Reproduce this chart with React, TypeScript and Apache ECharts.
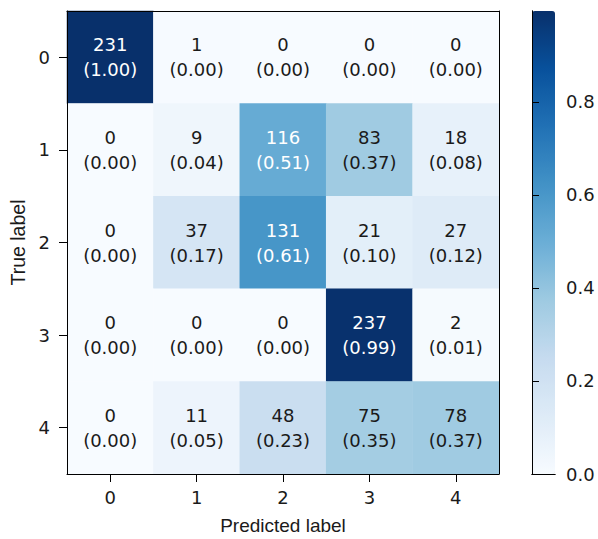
import React, { useEffect, useRef } from "react";
import * as echarts from "echarts";

const xCategories = ["0", "1", "2", "3", "4"];
const yCategories = ["0", "1", "2", "3", "4"];
const counts: number[][] = [
  [231, 1, 0, 0, 0],
  [0, 9, 116, 83, 18],
  [0, 37, 131, 21, 27],
  [0, 0, 0, 237, 2],
  [0, 11, 48, 75, 78],
];
const colorbarTicks = [0, 0.2, 0.4, 0.6, 0.8];
const blues = [
  "#f7fbff",
  "#deebf7",
  "#c6dbef",
  "#9ecae1",
  "#6baed6",
  "#4292c6",
  "#2171b5",
  "#08519c",
  "#08306b",
];

function fmt2(v: number): string {
  const s = v * 100;
  const f = Math.floor(s);
  const d = s - f;
  let r: number;
  if (Math.abs(d - 0.5) < 1e-9) r = f % 2 === 0 ? f : f + 1;
  else r = Math.round(s);
  return (r / 100).toFixed(2);
}

export default function App() {
  const ref = useRef<HTMLDivElement>(null);
  useEffect(() => {
    document.body.style.margin = "0";
    const chart = echarts.init(ref.current!, null, { renderer: "svg" });
    const norm = counts.map((row) => {
      const t = row.reduce((a, b) => a + b, 0);
      return row.map((c) => c / t);
    });
    let vmax = 0;
    norm.forEach((r) => r.forEach((v) => (vmax = Math.max(vmax, v))));
    const data: any[] = [];
    counts.forEach((row, i) =>
      row.forEach((c, j) => {
        const v = norm[i][j];
        data.push({
          value: [j, i, v],
          label: {
            show: true,
            formatter: `${c}\n(${fmt2(v)})`,
            color: v > vmax / 2 ? "#ffffff" : "#1a1a1a",
          },
        });
      })
    );
    const lineOnly = {
      axisLine: { show: true, lineStyle: { color: "#000", width: 1 } },
      axisTick: { show: false },
      axisLabel: { show: false },
      splitLine: { show: false },
      z: 10,
    };
    const labelFont = {
      fontFamily: "DejaVu Sans",
      fontSize: 18,
      color: "#1a1a1a",
    };
    const option: any = {
      animation: false,
      backgroundColor: "#ffffff",
      grid: [
        { left: 67, top: 11, width: 432, height: 463, outerBoundsMode: "none", containLabel: false },
        { left: 532, top: 11, width: 23, height: 463, outerBoundsMode: "none", containLabel: false },
      ],
      xAxis: [
        {
          gridIndex: 0,
          type: "category",
          data: xCategories,
          position: "bottom",
          axisLine: { show: true, lineStyle: { color: "#000", width: 1 } },
          axisTick: {
            show: true,
            alignWithLabel: true,
            length: 8,
            lineStyle: { color: "#000" },
          },
          axisLabel: { ...labelFont, margin: 14 },
          splitLine: { show: false },
          name: "Predicted label",
          nameLocation: "middle",
          nameGap: 42,
          nameTextStyle: {
            fontFamily: "Liberation Sans",
            fontSize: 19,
            color: "#1a1a1a",
          },
          z: 10,
        },
        {
          gridIndex: 0,
          type: "category",
          data: xCategories,
          position: "top",
          ...lineOnly,
        },
        { gridIndex: 1, type: "value", min: 0, max: 1, position: "bottom", ...lineOnly },
        { gridIndex: 1, type: "value", min: 0, max: 1, position: "top", ...lineOnly },
      ],
      yAxis: [
        {
          gridIndex: 0,
          type: "category",
          data: yCategories,
          inverse: true,
          position: "left",
          axisLine: { show: true, lineStyle: { color: "#000", width: 1 } },
          axisTick: {
            show: true,
            alignWithLabel: true,
            length: 8,
            lineStyle: { color: "#000" },
          },
          axisLabel: { ...labelFont, margin: 17 },
          splitLine: { show: false },
          name: "True label",
          nameLocation: "middle",
          nameRotate: 90,
          nameGap: 38,
          nameTextStyle: {
            fontFamily: "Liberation Sans",
            fontSize: 19.5,
            color: "#1a1a1a",
          },
          z: 10,
        },
        {
          gridIndex: 0,
          type: "category",
          data: yCategories,
          inverse: true,
          position: "right",
          ...lineOnly,
        },
        { gridIndex: 1, type: "value", min: 0, max: vmax, position: "left", ...lineOnly },
        {
          gridIndex: 1,
          type: "value",
          min: 0,
          max: vmax,
          position: "right",
          axisLine: { show: true, lineStyle: { color: "#000", width: 1 } },
          axisTick: {
            show: true,
            length: 7,
            customValues: colorbarTicks,
            lineStyle: { color: "#000" },
          },
          axisLabel: {
            ...labelFont,
            margin: 11,
            customValues: colorbarTicks,
            formatter: (v: number) => v.toFixed(1),
          },
          splitLine: { show: false },
          z: 10,
        },
      ],
      visualMap: {
        type: "continuous",
        min: 0,
        max: vmax,
        seriesIndex: 0,
        show: true,
        calculable: false,
        left: 532,
        top: 11,
        itemWidth: 23,
        itemHeight: 463,
        padding: 0,
        text: null,
        inRange: { color: blues },
      },
      series: [
        {
          type: "heatmap",
          xAxisIndex: 0,
          yAxisIndex: 0,
          data,
          label: {
            show: true,
            fontFamily: "DejaVu Sans",
            fontSize: 18,
            lineHeight: 25,
          },
          itemStyle: { borderWidth: 0 },
          emphasis: { disabled: true },
        },
      ],
    };
    chart.setOption(option);
    return () => chart.dispose();
  }, []);
  return <div ref={ref} style={{ width: 598, height: 539 }} />;
}
